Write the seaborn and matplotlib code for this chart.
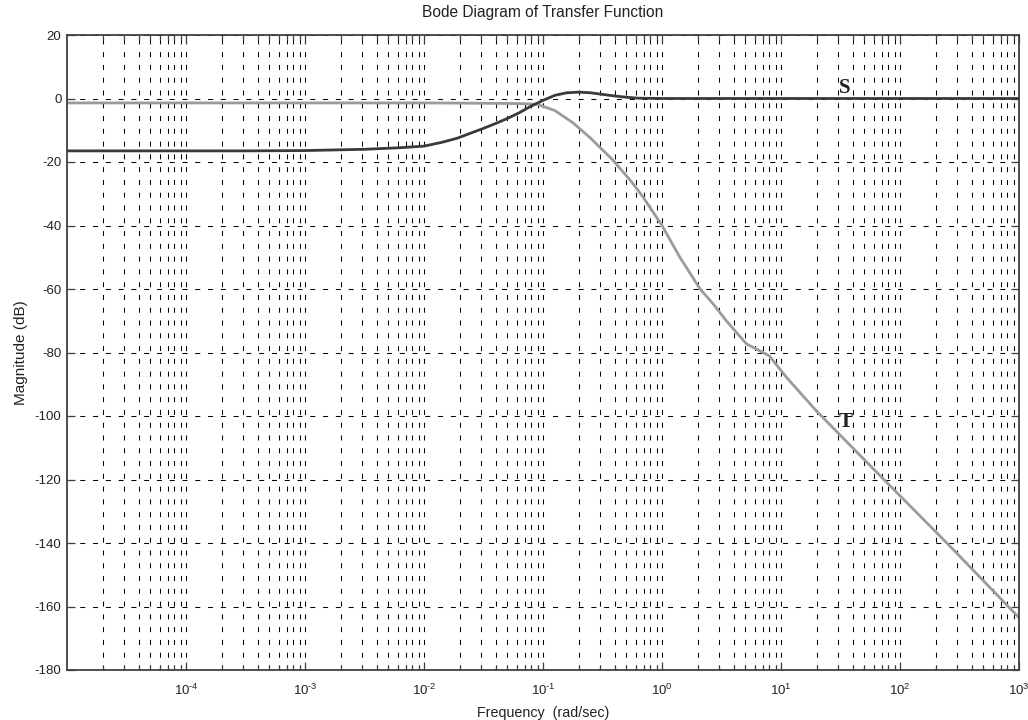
import numpy as np
import pandas as pd
import matplotlib
matplotlib.use("Agg")
import matplotlib.pyplot as plt
import matplotlib.ticker as mticker
import seaborn as sns

# Magnitude responses, frequency given as log10(rad/sec)
s_logw = [-5.0, -3.5, -3.0, -2.5, -2.2, -2.0, -1.85, -1.72, -1.6, -1.5, -1.4,
          -1.3, -1.2, -1.1, -1.0, -0.9, -0.8, -0.7, -0.6, -0.5, -0.4, -0.3,
          -0.2, 0.0, 3.0]
s_db = [-16.5, -16.5, -16.4, -16.0, -15.5, -15.0, -13.8, -12.5, -10.8, -9.4,
        -7.9, -6.3, -4.5, -2.4, -0.6, 1.0, 1.8, 2.0, 1.8, 1.3, 0.8, 0.4,
        0.1, 0.0, 0.0]

t_logw = [-5.0, -2.0, -1.5, -1.2, -1.05, -0.9, -0.75, -0.6, -0.41, -0.25,
          -0.16, 0.0, 0.15, 0.32, 0.43, 0.54, 0.71, 0.9, 1.05, 1.3, 1.83,
          2.42, 3.0]
t_db = [-1.4, -1.4, -1.5, -1.6, -1.8, -3.8, -7.6, -12.5, -19.5, -26.5,
        -31.0, -40.0, -50.0, -60.0, -64.7, -70.0, -77.3, -81.0, -88.0,
        -98.5, -118.7, -141.0, -163.5]

x_major_exps = [-4, -3, -2, -1, 0, 1, 2, 3]
y_ticks = list(range(20, -181, -20))
x_limits = (1e-5, 1e3)
y_limits = (-180, 20)

title_text = "Bode Diagram of Transfer Function"
x_label = "Frequency  (rad/sec)"
y_label = "Magnitude (dB)"

# curve name, annotation position (rad/sec, dB)
curve_labels = [("S", 34.5, 3.2), ("T", 35.0, -102.0)]
curve_colors = {"S": "#3a3a3a", "T": "#9b9b9b"}

sns.set_style("ticks")
plt.rcParams.update({
    "font.family": ["Liberation Sans", "DejaVu Sans"],
    "mathtext.fontset": "custom",
    "mathtext.rm": "Liberation Sans",
    "mathtext.it": "Liberation Sans:italic",
    "mathtext.bf": "Liberation Sans:bold",
    "axes.unicode_minus": False,
    "lines.scale_dashes": False,
    "xtick.direction": "in",
    "ytick.direction": "in",
    "xtick.top": True,
    "ytick.right": True,
})

df = pd.concat([
    pd.DataFrame({"w": 10 ** np.array(t_logw), "db": t_db, "curve": "T"}),
    pd.DataFrame({"w": 10 ** np.array(s_logw), "db": s_db, "curve": "S"}),
], ignore_index=True)

fig = plt.figure(figsize=(10.28, 7.2), dpi=100)
ax = fig.add_axes([67 / 1028, 50 / 720, 952 / 1028, 635 / 720])

ax.set_xscale("log")
sns.lineplot(data=df, x="w", y="db", hue="curve", palette=curve_colors,
             linewidth=2.0, estimator=None, sort=False, legend=False, ax=ax)

ax.set_xlim(*x_limits)
ax.set_ylim(*y_limits)


def decade_label(v, pos):
    e = int(round(np.log10(v)))
    exp_txt = r"\text{-}%d" % abs(e) if e < 0 else "%d" % e
    return r"$\mathregular{10^{%s}}$" % exp_txt


ax.xaxis.set_major_locator(mticker.FixedLocator([10.0 ** e for e in x_major_exps]))
ax.xaxis.set_major_formatter(mticker.FuncFormatter(decade_label))
ax.xaxis.set_minor_locator(mticker.LogLocator(base=10, subs=np.arange(2, 10), numticks=20))
ax.xaxis.set_minor_formatter(mticker.NullFormatter())
ax.yaxis.set_major_locator(mticker.FixedLocator(y_ticks))

dash = (0, (3.6, 5.6))
ax.grid(True, which="major", axis="both", color="black", linewidth=0.75, linestyle=dash)
ax.grid(True, which="minor", axis="x", color="black", linewidth=0.75, linestyle=dash)
ax.set_axisbelow(True)

for sp in ax.spines.values():
    sp.set_color("#404040")
    sp.set_linewidth(1.3)
ax.tick_params(which="major", length=6, width=0.9, colors="#404040",
               labelcolor="#222222", labelsize=9.5)
ax.tick_params(which="minor", length=3.5, width=0.9, colors="#404040")
ax.tick_params(axis="x", which="major", pad=9)
ax.tick_params(axis="y", which="major", pad=4)

ax.set_title(title_text, fontsize=11.2, color="#222222", pad=13)
ax.set_xlabel(x_label, fontsize=10.3, color="#222222", labelpad=6)
ax.set_ylabel(y_label, fontsize=11, color="#222222", labelpad=5)

for name, xw, ydb in curve_labels:
    ax.text(xw, ydb, name, fontfamily=["Liberation Serif", "DejaVu Serif"],
            fontweight="bold", fontsize=15, ha="center", va="center", color="#222222")

fig.savefig("out.png", dpi=100)
